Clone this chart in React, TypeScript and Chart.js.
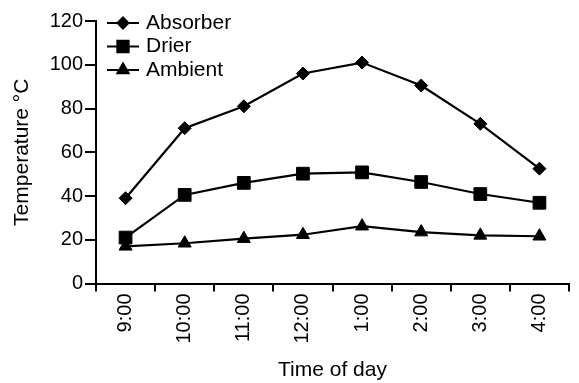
import React, { useEffect, useRef } from "react";
import { Chart, registerables } from "chart.js";
import { drawPoint } from "chart.js/helpers";

Chart.register(...registerables);

const timeLabels = ["9:00", "10:00", "11:00", "12:00", "1:00", "2:00", "3:00", "4:00"];
const absorber = [39, 71, 81, 96, 101, 90.5, 73, 52.5];
const drier = [21, 40.5, 46, 50.2, 50.8, 46.4, 40.9, 36.9];
const ambient = [17, 18.4, 20.5, 22.3, 26.2, 23.5, 22, 21.6];
const yTicks = [0, 20, 40, 60, 80, 100, 120];

const FONT = "'Liberation Sans', Arial, sans-serif";

const lineLegend = {
  id: "lineLegend",
  afterDraw(chart: any) {
    const ctx = chart.ctx;
    const x0 = chart.chartArea.left + 11;
    const x1 = x0 + 32;
    const startY = 23;
    const step = 23.5;
    ctx.save();
    chart.data.datasets.forEach((ds: any, i: number) => {
      const y = startY + i * step;
      ctx.strokeStyle = "#000";
      ctx.lineWidth = 2;
      ctx.beginPath();
      ctx.moveTo(x0, y);
      ctx.lineTo(x1, y);
      ctx.stroke();
      ctx.fillStyle = "#000";
      drawPoint(ctx, { pointStyle: ds.pointStyle, radius: ds.pointRadius - 1, borderWidth: 1, rotation: 0 }, (x0 + x1) / 2, y);
      ctx.fillStyle = "#000";
      ctx.font = `21px ${FONT}`;
      ctx.textBaseline = "middle";
      ctx.textAlign = "left";
      ctx.fillText(ds.label, x1 + 7, y);
    });
    ctx.restore();
  },
};

export default function App() {
  const ref = useRef<HTMLCanvasElement | null>(null);
  useEffect(() => {
    document.body.style.margin = "0";
    const mk = (label: string, data: number[], style: string, r: number) => ({
      label,
      data,
      pointStyle: style,
      pointRadius: r,
      pointHoverRadius: r,
      borderColor: "#000",
      backgroundColor: "#000",
      pointBackgroundColor: "#000",
      pointBorderColor: "#000",
      pointBorderWidth: 1,
      borderWidth: 2.2,
      tension: 0,
    });
    const chart = new Chart(ref.current!, {
      type: "line",
      data: {
        labels: timeLabels,
        datasets: [
          mk("Absorber", absorber, "rectRot", 6.5),
          mk("Drier", drier, "rect", 9),
          mk("Ambient", ambient, "triangle", 7.5),
        ],
      },
      options: {
        animation: false,
        responsive: false,
        events: [],
        layout: { padding: { top: 21, right: 3, left: 0, bottom: 0 } },
        plugins: { legend: { display: false }, tooltip: { enabled: false } },
        scales: {
          x: {
            type: "category",
            offset: true,
            grid: {
              offset: true,
              drawOnChartArea: false,
              drawTicks: true,
              tickLength: 8,
              color: "#000",
              lineWidth: 2,
            },
            border: { display: true, color: "#000", width: 2 },
            ticks: {
              color: "#000",
              font: { family: FONT, size: 20 },
              minRotation: 90,
              maxRotation: 90,
              autoSkip: false,
              padding: 2,
            },
            title: {
              display: true,
              text: "Time of day",
              color: "#000",
              font: { family: FONT, size: 21 },
              padding: { top: 0, bottom: 0 },
            },
            afterFit: (s: any) => {
              s.height = 383 - 283.5;
            },
          },
          y: {
            min: 0,
            max: 120,
            afterBuildTicks: (s: any) => {
              s.ticks = yTicks.map((v) => ({ value: v }));
            },
            grid: {
              drawOnChartArea: false,
              drawTicks: true,
              tickLength: 11,
              color: "#000",
              lineWidth: 2,
            },
            border: { display: true, color: "#000", width: 2 },
            ticks: {
              color: "#000",
              font: { family: FONT, size: 20 },
              padding: 2,
            },
            title: {
              display: true,
              text: "Temperature °C",
              color: "#000",
              font: { family: FONT, size: 21 },
              padding: { top: 10, bottom: 0 },
            },
            afterFit: (s: any) => {
              s.width = 96;
            },
          },
        },
      },
      plugins: [lineLegend],
    } as any);
    return () => chart.destroy();
  }, []);
  return (
    <div style={{ width: 579, height: 383 }}>
      <canvas ref={ref} width={579} height={383} style={{ display: "block" }} />
    </div>
  );
}
